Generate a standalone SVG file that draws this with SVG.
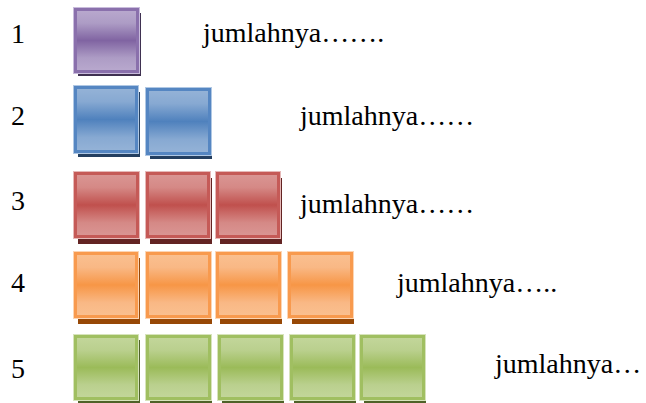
<svg xmlns="http://www.w3.org/2000/svg" width="646" height="403" viewBox="0 0 646 403">
<defs>
<linearGradient id="gP" x1="0" y1="0" x2="0" y2="1"><stop offset="0" stop-color="#B9A9CE"/><stop offset="0.22" stop-color="#AD9CC5"/><stop offset="0.5" stop-color="#8064A2"/><stop offset="0.78" stop-color="#AD9CC5"/><stop offset="1" stop-color="#B9A9CE"/></linearGradient>
<linearGradient id="gB" x1="0" y1="0" x2="0" y2="1"><stop offset="0" stop-color="#95B3D7"/><stop offset="0.22" stop-color="#87A9D2"/><stop offset="0.5" stop-color="#4F81BD"/><stop offset="0.78" stop-color="#87A9D2"/><stop offset="1" stop-color="#95B3D7"/></linearGradient>
<linearGradient id="gR" x1="0" y1="0" x2="0" y2="1"><stop offset="0" stop-color="#DA9694"/><stop offset="0.22" stop-color="#D58986"/><stop offset="0.5" stop-color="#C0504D"/><stop offset="0.78" stop-color="#D58986"/><stop offset="1" stop-color="#DA9694"/></linearGradient>
<linearGradient id="gO" x1="0" y1="0" x2="0" y2="1"><stop offset="0" stop-color="#FAC090"/><stop offset="0.22" stop-color="#F9B885"/><stop offset="0.5" stop-color="#F79646"/><stop offset="0.78" stop-color="#F9B885"/><stop offset="1" stop-color="#FAC090"/></linearGradient>
<linearGradient id="gG" x1="0" y1="0" x2="0" y2="1"><stop offset="0" stop-color="#C3D69B"/><stop offset="0.22" stop-color="#BAD08E"/><stop offset="0.5" stop-color="#9BBB59"/><stop offset="0.78" stop-color="#BAD08E"/><stop offset="1" stop-color="#C3D69B"/></linearGradient>
</defs>
<style>
text{font-family:"Liberation Serif","Times New Roman",serif;font-size:28px;fill:#000}
.halo{fill:none;stroke-width:1}
.p .sh{fill:#3F3151}.p .bx{fill:url(#gP);stroke:#8A70AC}.p .halo{stroke:#C9BCDC}
.b .sh{fill:#243F60}.b .bx{fill:url(#gB);stroke:#5586C2}.b .halo{stroke:#B0C8E4}
.r .sh{fill:#632423}.r .bx{fill:url(#gR);stroke:#C55A57}.r .halo{stroke:#E6B9B8}
.o .sh{fill:#974806}.o .bx{fill:url(#gO);stroke:#F89A4E}.o .halo{stroke:#FCD5B4}
.g .sh{fill:#4F6228}.g .bx{fill:url(#gG);stroke:#A0BF61}.g .halo{stroke:#D7E4BC}
.bx{stroke-width:3}
</style>
<g id="labels">
<text x="11" y="43">1</text>
<text x="11" y="125">2</text>
<text x="11" y="210">3</text>
<text x="11" y="292">4</text>
<text x="11" y="378">5</text>
<text x="203" y="42">jumlahnya…….</text>
<text x="300" y="125">jumlahnya……</text>
<text x="300" y="213">jumlahnya……</text>
<text x="397" y="292">jumlahnya…..</text>
<text x="495" y="373">jumlahnya…</text>
</g>
<g id="row1" class="p">
<g id="r1b1"><rect class="sh" x="78" y="13" width="63" height="63"/><rect class="bx" x="75.5" y="9.5" width="62" height="62"/><rect class="halo" x="73.5" y="7.5" width="66" height="66"/></g>
</g>
<g id="row2" class="b">
<g id="r2b1"><rect class="sh" x="78" y="92" width="62" height="65"/><rect class="bx" x="75.5" y="87.5" width="61" height="64"/><rect class="halo" x="73.5" y="85.5" width="65" height="68"/></g>
<g id="r2b2"><rect class="sh" x="150" y="94" width="62" height="65"/><rect class="bx" x="147.5" y="89.5" width="62" height="64"/><rect class="halo" x="145.5" y="87.5" width="66" height="68"/></g>
</g>
<g id="row3" class="r">
<g id="r3b1"><rect class="sh" x="78" y="178" width="62" height="66"/><rect class="bx" x="75.5" y="173.5" width="62" height="63"/><rect class="halo" x="73.5" y="171.5" width="66" height="67"/></g>
<g id="r3b2"><rect class="sh" x="150" y="178" width="62" height="66"/><rect class="bx" x="147.5" y="173.5" width="61" height="63"/><rect class="halo" x="145.5" y="171.5" width="65" height="67"/></g>
<g id="r3b3"><rect class="sh" x="220" y="178" width="62" height="66"/><rect class="bx" x="217.5" y="173.5" width="61" height="63"/><rect class="halo" x="215.5" y="171.5" width="65" height="67"/></g>
</g>
<g id="row4" class="o">
<g id="r4b1"><rect class="sh" x="78" y="258" width="62" height="66"/><rect class="bx" x="75.5" y="253.5" width="61" height="63"/><rect class="halo" x="73.5" y="251.5" width="65" height="67"/></g>
<g id="r4b2"><rect class="sh" x="150" y="258" width="62" height="66"/><rect class="bx" x="147.5" y="253.5" width="62" height="63"/><rect class="halo" x="145.5" y="251.5" width="66" height="67"/></g>
<g id="r4b3"><rect class="sh" x="220" y="258" width="62" height="66"/><rect class="bx" x="217.5" y="253.5" width="62" height="63"/><rect class="halo" x="215.5" y="251.5" width="66" height="67"/></g>
<g id="r4b4"><rect class="sh" x="292" y="258" width="62" height="66"/><rect class="bx" x="289.5" y="253.5" width="62" height="63"/><rect class="halo" x="287.5" y="251.5" width="66" height="67"/></g>
</g>
<g id="row5" class="g">
<g id="r5b1"><rect class="sh" x="78" y="340" width="62" height="63"/><rect class="bx" x="75.5" y="336.5" width="61" height="62"/><rect class="halo" x="73.5" y="334.5" width="65" height="66"/></g>
<g id="r5b2"><rect class="sh" x="150" y="340" width="62" height="63"/><rect class="bx" x="147.5" y="336.5" width="62" height="62"/><rect class="halo" x="145.5" y="334.5" width="66" height="66"/></g>
<g id="r5b3"><rect class="sh" x="222" y="340" width="62" height="63"/><rect class="bx" x="219.5" y="336.5" width="62" height="62"/><rect class="halo" x="217.5" y="334.5" width="66" height="66"/></g>
<g id="r5b4"><rect class="sh" x="294" y="340" width="62" height="63"/><rect class="bx" x="291.5" y="336.5" width="62" height="62"/><rect class="halo" x="289.5" y="334.5" width="66" height="66"/></g>
<g id="r5b5"><rect class="sh" x="364" y="340" width="62" height="63"/><rect class="bx" x="361.5" y="336.5" width="62" height="62"/><rect class="halo" x="359.5" y="334.5" width="66" height="66"/></g>
</g>
</svg>
